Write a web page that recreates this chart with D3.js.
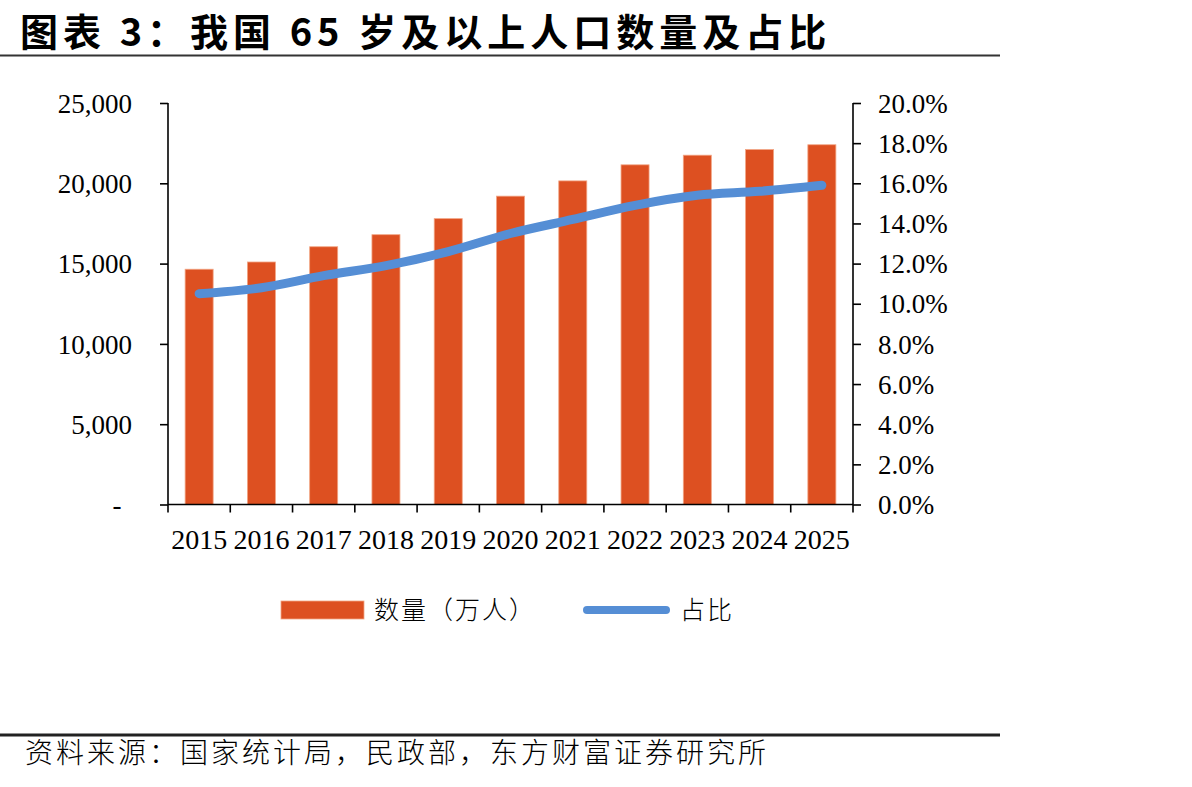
<!DOCTYPE html>
<html>
<head>
<meta charset="utf-8">
<script src="https://cdn.jsdelivr.net/npm/d3@7"></script>
<style>
  body{margin:0;background:#fff;}
  svg{display:block;}
  .ax path,.ax line{stroke:#000;stroke-width:1.6;}
  .ax text{font-family:"Liberation Serif","Times New Roman",serif;fill:#000;}
</style>
</head>
<body>
<svg id="chart" width="1192" height="787"></svg>
<script>
const years = ["2015","2016","2017","2018","2019","2020","2021","2022","2023","2024","2025"];
const counts = [14650,15100,16050,16800,17800,19200,20150,21150,21750,22100,22400]; // 万人
const shares = [10.5,10.8,11.4,11.9,12.6,13.5,14.2,14.9,15.4,15.6,15.9]; // %
const leftTicks = [0,5000,10000,15000,20000,25000];
const rightTicks = [0,2,4,6,8,10,12,14,16,18,20];

const barColor = "#DD5021", lineColor = "#558ED5";
const cjk = "'Noto Sans CJK SC','Noto Sans',sans-serif";

const svg = d3.select("#chart");
const m = {l:168, r:853, t:103, b:504.5};

// title + rules
svg.append("text").attr("x",20).attr("y",46)
  .style("font-family",cjk).style("font-weight",700).style("font-size","38px")
  .style("letter-spacing","5px")
  .text("图表 3：我国 65 岁及以上人口数量及占比");
svg.append("line").attr("x1",0).attr("x2",1000).attr("y1",55.5).attr("y2",55.5)
  .attr("stroke","#333").attr("stroke-width",2);
svg.append("line").attr("x1",0).attr("x2",1000).attr("y1",735).attr("y2",735)
  .attr("stroke","#222").attr("stroke-width",3);
svg.append("text").attr("x",25).attr("y",763)
  .style("font-family",cjk).style("font-size","28px").style("font-weight",300)
  .style("letter-spacing","3px")
  .text("资料来源：国家统计局，民政部，东方财富证券研究所");

const x = d3.scaleBand().domain(years).range([m.l,m.r]).paddingInner(0.55).paddingOuter(0.275);
const yL = d3.scaleLinear().domain([0,25000]).range([m.b,m.t]);
const yR = d3.scaleLinear().domain([0,20]).range([m.b,m.t]);

// bars
svg.append("g").selectAll("rect").data(years).join("rect")
  .attr("x",d=>x(d)).attr("width",x.bandwidth())
  .attr("y",(d,i)=>yL(counts[i])).attr("height",(d,i)=>m.b-yL(counts[i]))
  .attr("fill",barColor).attr("stroke","#F2A584").attr("stroke-width",0.8);

// left axis
const gl = svg.append("g").attr("class","ax").attr("transform",`translate(${m.l},0)`)
  .call(d3.axisLeft(yL).tickValues(leftTicks).tickSize(8).tickPadding(28)
    .tickFormat(d=>d===0?"":d3.format(",")(d)));
gl.selectAll("text").style("font-size","27px").attr("dy","0.34em");
gl.select(".domain").attr("d",`M0,${m.t}V${m.b}`);
svg.append("text").attr("x",117).attr("y",yL(0)).attr("dy","0.34em")
  .attr("text-anchor","middle")
  .style("font-family","'Liberation Serif',serif").style("font-size","27px").text("-");

// right axis
const gr = svg.append("g").attr("class","ax").attr("transform",`translate(${m.r},0)`)
  .call(d3.axisRight(yR).tickValues(rightTicks).tickSize(8).tickPadding(17)
    .tickFormat(d=>d.toFixed(1)+"%"));
gr.selectAll("text").style("font-size","27px").attr("dy","0.34em");
gr.select(".domain").attr("d",`M0,${m.t}V${m.b}`);

// bottom axis with ticks between categories
const xb = svg.append("g").attr("class","ax").attr("transform",`translate(0,${m.b})`);
xb.append("line").attr("x1",m.l).attr("x2",m.r).attr("y1",0).attr("y2",0);
const step = x.step();
xb.selectAll(".bt").data(d3.range(years.length+1)).join("line").attr("class","bt")
  .attr("x1",i=>m.l+i*step).attr("x2",i=>m.l+i*step).attr("y1",0).attr("y2",8);
xb.selectAll("text").data(years).join("text")
  .attr("x",d=>x(d)+x.bandwidth()/2).attr("y",44)
  .attr("text-anchor","middle").style("font-size","28px").text(d=>d);

// share line
const line = d3.line().x((d,i)=>x(years[i])+x.bandwidth()/2).y(d=>yR(d)).curve(d3.curveCatmullRom);
svg.append("path").datum(shares).attr("d",line)
  .attr("fill","none").attr("stroke",lineColor).attr("stroke-width",9)
  .attr("stroke-linecap","round").attr("stroke-linejoin","round");

// legend
const lg = svg.append("g");
lg.append("rect").attr("x",281).attr("y",601).attr("width",83).attr("height",18)
  .attr("fill",barColor).attr("stroke","#F2A584").attr("stroke-width",0.8);
lg.append("text").attr("x",374).attr("y",610).attr("dy","0.36em")
  .style("font-family",cjk).style("font-size","25px").style("font-weight",300)
  .style("letter-spacing","2px").text("数量（万人）");
lg.append("line").attr("x1",587).attr("x2",666).attr("y1",610).attr("y2",610)
  .attr("stroke",lineColor).attr("stroke-width",8).attr("stroke-linecap","round");
lg.append("text").attr("x",680).attr("y",610).attr("dy","0.36em")
  .style("font-family",cjk).style("font-size","25px").style("font-weight",300)
  .style("letter-spacing","2px").text("占比");
</script>
</body>
</html>
